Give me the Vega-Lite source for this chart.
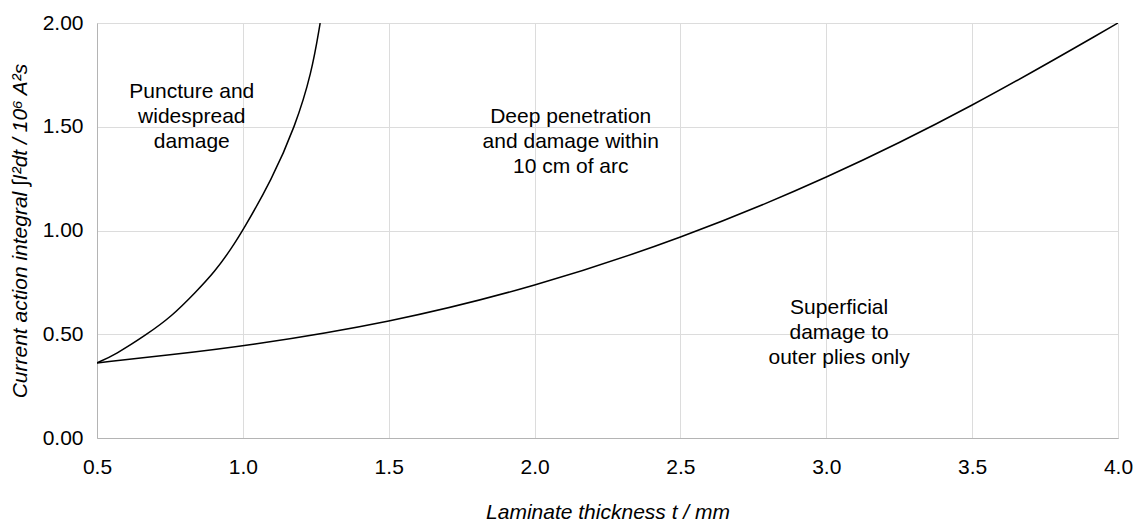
{
  "$schema": "https://vega.github.io/schema/vega-lite/v6.json",
  "autosize": "none",
  "width": 1021,
  "height": 415,
  "padding": {"left": 97, "top": 23, "right": 19, "bottom": 89},
  "background": "white",
  "config": {
    "view": {"stroke": "#b4b4b4", "strokeWidth": 1},
    "font": "Liberation Sans",
    "axis": {
      "labelFont": "Liberation Sans",
      "titleFont": "Liberation Sans",
      "labelFontSize": 21,
      "titleFontSize": 21,
      "labelColor": "#000",
      "titleColor": "#000",
      "titleFontWeight": "normal",
      "titleFontStyle": "italic",
      "gridColor": "#dcdcdc",
      "gridWidth": 1,
      "domainColor": "#b4b4b4",
      "labelFlush": false,
      "ticks": false
    }
  },
  "datasets": {
    "curves": [
      {"curve": "upper", "t": 0.5, "I": 0.362},
      {"curve": "upper", "t": 0.562, "I": 0.401},
      {"curve": "upper", "t": 0.67, "I": 0.498},
      {"curve": "upper", "t": 0.756, "I": 0.586},
      {"curve": "upper", "t": 0.836, "I": 0.699},
      {"curve": "upper", "t": 0.905, "I": 0.803},
      {"curve": "upper", "t": 0.962, "I": 0.916},
      {"curve": "upper", "t": 1.0, "I": 1.0},
      {"curve": "upper", "t": 1.099, "I": 1.245},
      {"curve": "upper", "t": 1.179, "I": 1.5},
      {"curve": "upper", "t": 1.236, "I": 1.759},
      {"curve": "upper", "t": 1.265, "I": 2.0},
      {"curve": "lower", "t": 0.5, "I": 0.362},
      {"curve": "lower", "t": 0.75, "I": 0.401},
      {"curve": "lower", "t": 1.0, "I": 0.441},
      {"curve": "lower", "t": 1.5, "I": 0.554},
      {"curve": "lower", "t": 2.0, "I": 0.728},
      {"curve": "lower", "t": 2.5, "I": 0.959},
      {"curve": "lower", "t": 3.0, "I": 1.248},
      {"curve": "lower", "t": 3.5, "I": 1.595},
      {"curve": "lower", "t": 4.0, "I": 2.0}
    ],
    "labels": [
      {"t": 0.825, "I": 1.666, "text": "Puncture and\nwidespread\ndamage"},
      {"t": 2.124, "I": 1.548, "text": "Deep penetration\nand damage within\n10 cm of arc"},
      {"t": 3.044, "I": 0.627, "text": "Superficial\ndamage to\nouter plies only"}
    ]
  },
  "layer": [
    {
      "data": {"name": "curves"},
      "mark": {"type": "line", "color": "#000", "strokeWidth": 1.5, "interpolate": "basis", "clip": true},
      "encoding": {
        "x": {
          "field": "t", "type": "quantitative",
          "scale": {"domain": [0.5, 4.0], "nice": false, "zero": false},
          "axis": {
            "values": [0.5, 1.0, 1.5, 2.0, 2.5, 3.0, 3.5, 4.0],
            "format": ".1f",
            "labelPadding": 18,
            "title": "Laminate thickness t / mm",
            "titlePadding": 24
          }
        },
        "y": {
          "field": "I", "type": "quantitative",
          "scale": {"domain": [0, 2], "nice": false},
          "axis": {
            "values": [0, 0.5, 1.0, 1.5, 2.0],
            "format": ".2f",
            "labelPadding": 14,
            "title": "Current action integral ∫I²dt / 10⁶ A²s",
            "titlePadding": 12
          }
        },
        "detail": {"field": "curve", "type": "nominal"},
        "order": {"field": "t", "type": "quantitative"}
      }
    },
    {
      "data": {"name": "labels"},
      "mark": {"type": "text", "font": "Liberation Sans", "fontSize": 21, "lineHeight": 25, "lineBreak": "\n", "align": "center", "baseline": "middle", "color": "#000"},
      "encoding": {
        "x": {"field": "t", "type": "quantitative"},
        "y": {"field": "I", "type": "quantitative"},
        "text": {"field": "text", "type": "nominal"}
      }
    }
  ]
}
